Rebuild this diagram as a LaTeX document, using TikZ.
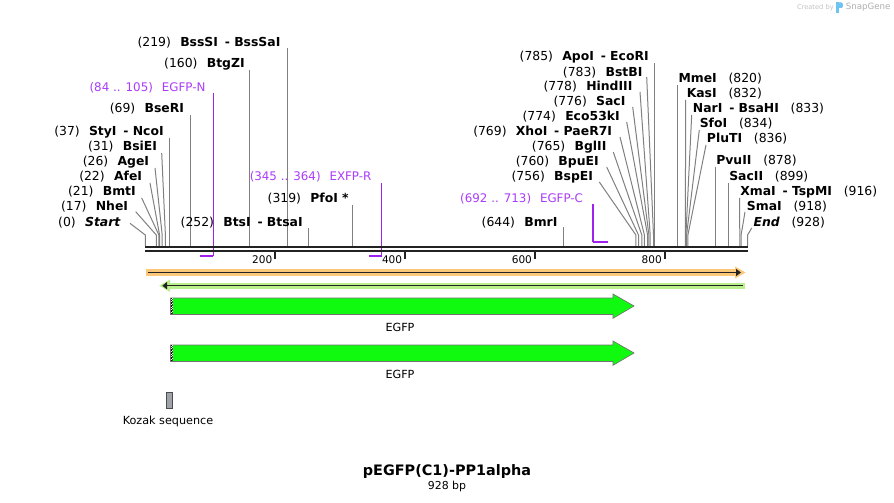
\documentclass[tikz,border=0pt]{standalone}
\usepackage{fontspec}
\setmainfont{DejaVu Sans}
\usetikzlibrary{arrows.meta}
\definecolor{prim}{RGB}{160,32,240}
\definecolor{primtxt}{RGB}{170,60,250}
\definecolor{siteln}{RGB}{128,128,128}
\definecolor{bbone}{RGB}{34,34,34}
\definecolor{orng}{RGB}{250,200,120}
\definecolor{lgrn}{RGB}{185,240,140}
\definecolor{egfpc}{RGB}{16,250,16}
\definecolor{kozakc}{RGB}{160,162,170}
\definecolor{sgray}{RGB}{195,195,195}
\definecolor{sblue}{RGB}{110,195,240}
\newcommand\nL[2]{(#1)\hspace{0.75em}\textbf{#2}}
\newcommand\nR[2]{\textbf{#1}\hspace{0.95em}(#2)}
\newcommand\dsh{\hspace{0.55em}- }
% vertical site line, label on the left
\newcommand\svL[6]{%
  \coordinate (b#1) at (#2,246); \coordinate (t#1) at (#2,#3);
  \node[lbl,anchor=east] (n#1) at (#4,#5) {#6};
  \draw[sitel] (b#1) -- (t#1);}
% angled site line, label on the left
\newcommand\saL[7]{%
  \coordinate (b#1) at (#2,246); \coordinate (k#1) at (#2,235); \coordinate (t#1) at (#3,#4);
  \node[lbl,anchor=east] (n#1) at (#5,#6) {#7};
  \draw[sitel] (b#1) -- (k#1) -- (t#1);}
% vertical site line, label on the right
\newcommand\svR[6]{%
  \coordinate (b#1) at (#2,246); \coordinate (t#1) at (#2,#3);
  \node[lbl,anchor=west] (n#1) at (#4,#5) {#6};
  \draw[sitel] (b#1) -- (t#1);}
% angled site line, label on the right
\newcommand\saR[7]{%
  \coordinate (b#1) at (#2,246); \coordinate (k#1) at (#2,235); \coordinate (t#1) at (#3,#4);
  \node[lbl,anchor=west] (n#1) at (#5,#6) {#7};
  \draw[sitel] (b#1) -- (k#1) -- (t#1);}
\begin{document}
\begin{tikzpicture}[x=0.75pt,y=-0.75pt,
  lbl/.style={font=\fontsize{9.3}{10}\selectfont, inner sep=0pt, text=black},
  plbl/.style={font=\fontsize{8.9}{10}\selectfont, inner sep=0pt, text=primtxt},
  sitel/.style={draw=siteln, line width=0.75pt},
  primer/.style={draw=prim, line width=1.5pt},
  bbline/.style={draw=bbone, line width=1.5pt},
  tick/.style={draw=bbone, line width=1.5pt},
  rlbl/.style={font=\fontsize{7.9}{9}\selectfont, inner sep=0pt, text=black},
  flbl/.style={font=\fontsize{8.4}{10}\selectfont, inner sep=0pt, text=black},
  egfparrow/.style={fill=egfpc, draw=black!55, line width=0.5pt}]
\useasboundingbox (0,0) rectangle (894,503);
\fill[white] (0,0) rectangle (894,503);

% ---- site lines and labels (left side)
\saL{st}{145.3}{130}{223.3}{121}{222.3}{(0)\hspace{0.75em}\textbf{\textit{Start}}}
\saL{nhe}{156.3}{135.7}{211.7}{128.3}{206.7}{\nL{17}{NheI}}
\saL{bmt}{158.9}{141.7}{198}{136}{191.7}{\nL{21}{BmtI}}
\saL{afe}{159.6}{150}{183}{142.3}{176.7}{\nL{22}{AfeI}}
\saL{age}{162.2}{155}{168}{149.3}{162}{\nL{26}{AgeI}}
\saL{bsie}{165.4}{161.7}{153}{157.3}{147}{\nL{31}{BsiEI}}
\svL{sty}{169.3}{138}{164}{131.7}{\nL{37}{StyI\dsh NcoI}}
\svL{bser}{190.1}{115}{184.3}{109}{\nL{69}{BseRI}}
\svL{btgz}{249.1}{70}{245}{64}{\nL{160}{BtgZI}}
\svL{bsss}{287.4}{48}{280.7}{42.3}{\nL{219}{BssSI\dsh BssSaI}}
\svL{bts}{308.8}{228}{303}{222.3}{\nL{252}{BtsI\dsh BtsaI}}
\svL{pfo}{352.3}{205}{349}{199}{\nL{319}{PfoI *}}
\svL{bmr}{563.2}{227}{557.7}{222.3}{\nL{644}{BmrI}}
\saL{bspe}{635.9}{599.3}{182}{593.3}{177}{\nL{756}{BspEI}}
\saL{bpue}{638.5}{606.7}{167}{599}{161.7}{\nL{760}{BpuEI}}
\saL{bgl}{641.8}{613.3}{152}{606.7}{146.7}{\nL{765}{BglII}}
\saL{xho}{644.4}{620}{137}{612.3}{131.7}{\nL{769}{XhoI\dsh PaeR7I}}
\saL{ecof}{647.6}{626.7}{122}{620}{116.7}{\nL{774}{Eco53kI}}
\saL{sac}{648.9}{632.7}{107}{625.7}{101.7}{\nL{776}{SacI}}
\saL{hind}{650.2}{640}{92}{632.7}{86.7}{\nL{778}{HindIII}}
\saL{bstb}{653.5}{646.7}{77}{642.7}{72.3}{\nL{783}{BstBI}}
\svL{apo}{654.8}{63}{649}{56.7}{\nL{785}{ApoI\dsh EcoRI}}
% ---- right side
\svR{mme}{677.5}{85}{678.3}{79}{\nR{MmeI}{820}}
\saR{kas}{685.3}{685.7}{100}{686.5}{93.3}{\nR{KasI}{832}}
\saR{nar}{685.9}{691.7}{115}{692.7}{109}{\nR{NarI\dsh BsaHI}{833}}
\saR{sfo}{686.6}{699.3}{130}{699.5}{124}{\nR{SfoI}{834}}
\saR{plu}{687.9}{706}{145}{706.7}{139}{\nR{PluTI}{836}}
\svR{pvu}{715.1}{167}{716}{161}{\nR{PvuII}{878}}
\svR{sact}{728.8}{183}{729}{176.7}{\nR{SacII}{899}}
\saR{xma}{739.8}{739.5}{198}{740}{192.3}{\nR{XmaI\dsh TspMI}{916}}
\saR{sma}{741.1}{745}{212}{746.7}{206.7}{\nR{SmaI}{918}}
\saR{end}{747.6}{751.7}{228}{753.3}{222.3}{\textbf{\textit{End}}\hspace{0.95em}(928)}

% ---- primers
\node[plbl,anchor=east] (pN) at (205.7,87.3) {(84 .. 105)\hspace{0.75em}EGFP-N};
\coordinate (pNt) at (213.4,93); \coordinate (pNk) at (213.4,256); \coordinate (pNe) at (199.8,256);
\draw[primer,line width=1.1pt] (pNt) -- (pNk);
\draw[primer] (pNk) -- (pNe);
\node[plbl,anchor=east] (pR) at (371.7,176.7) {(345 .. 364)\hspace{0.75em}EXFP-R};
\coordinate (pRt) at (381.5,183); \coordinate (pRk) at (381.5,256); \coordinate (pRe) at (369.2,256);
\draw[primer,line width=1.1pt] (pRt) -- (pRk);
\draw[primer] (pRk) -- (pRe);
\node[plbl,anchor=east] (pC) at (583.3,199) {(692 .. 713)\hspace{0.75em}EGFP-C};
\coordinate (pCt) at (593,204); \coordinate (pCk) at (593,242); \coordinate (pCe) at (607.5,242);
\draw[primer,line width=1.1pt] (pCt) -- (pCk);
\draw[primer] (pCk) -- (pCe);

% ---- backbone
\coordinate (bbL1) at (145,247); \coordinate (bbR1) at (748,247);
\coordinate (bbL2) at (145,251); \coordinate (bbR2) at (748,251);
\draw[bbline] (bbL1) -- (bbR1);
\draw[bbline] (bbL2) -- (bbR2);
% ---- ruler ticks
\foreach \p/\xx in {200/275.1,400/404.9,600/534.7,800/664.5}{
  \draw[tick] (\xx,252) -- (\xx,259.3);
  \node[rlbl,anchor=east] (r\p) at (\xx-2.5,259.5) {\p};
}

% ---- orange (forward) bar
\coordinate (oL) at (146,272.5); \coordinate (oR) at (739,272.5);
\draw[orng, line width=4.8pt] (oL) -- (oR);
\fill[orng] (735,266.5) -- (745.5,272.5) -- (735,278.5) -- cycle;
\draw[bbone, line width=1.1pt] (147.7,272.5) -- (737,272.5);
\fill[bbone] (736,268.8) -- (741,272.5) -- (736,276.2) -- cycle;

% ---- green (reverse) bar
\coordinate (gL) at (165,285.7); \coordinate (gR) at (745,285.7);
\draw[lgrn, line width=4.5pt] (gL) -- (gR);
\fill[lgrn] (170,279.5) -- (159.3,285.7) -- (170,291.9) -- cycle;
\draw[bbone, line width=1.1pt] (166,285.7) -- (742.7,285.7);
\fill[bbone] (167,282) -- (162.3,285.7) -- (167,289.4) -- cycle;

% ---- EGFP features
\draw[egfparrow] (170.5,298) -- (613,298) -- (613,294) -- (634,306) -- (613,318.3) -- (613,314.5) -- (170.5,314.5) -- cycle;
\fill[white] (170.8,298.3) rectangle (173.3,314.2);
\draw[black, line width=0.6pt, dash pattern=on 0.6pt off 0.6pt] (171.5,298.3) -- (171.5,314.2);
\draw[black!70, line width=0.6pt, dash pattern=on 0.6pt off 0.6pt] (172.8,298.9) -- (172.8,314.2);
\node[flbl] (f1) at (400,327.3) {EGFP};

\draw[egfparrow] (170.5,345) -- (613,345) -- (613,341) -- (634,353) -- (613,365.3) -- (613,361.5) -- (170.5,361.5) -- cycle;
\fill[white] (170.8,345.3) rectangle (173.3,361.2);
\draw[black, line width=0.6pt, dash pattern=on 0.6pt off 0.6pt] (171.5,345.3) -- (171.5,361.2);
\draw[black!70, line width=0.6pt, dash pattern=on 0.6pt off 0.6pt] (172.8,345.9) -- (172.8,361.2);
\node[flbl] (f2) at (400,374.5) {EGFP};

% ---- Kozak
\draw[fill=kozakc, draw=black!70, line width=0.6pt] (166.8,392.7) rectangle (172.3,408.3);
\node[flbl] (kz) at (168,421.5) {Kozak sequence};

% ---- title
\node[inner sep=0pt, font=\fontsize{10.8}{12}\selectfont\bfseries] (title) at (447,471.5) {pEGFP(C1)-PP1alpha};
\node[inner sep=0pt, font=\fontsize{8.2}{10}\selectfont] (bp) at (447,486.5) {928 bp};

% ---- credit
\node[inner sep=0pt, anchor=east, text=sgray, font=\fontsize{5}{6}\selectfont] (cr) at (834,7.5) {Created by};
\fill[sblue] (836.3,2.5) rectangle (838.6,13);
\fill[sblue] (838.6,2.5) -- (841.5,2.5) .. controls (843.5,2.5) and (843.5,8) .. (841.5,8) -- (838.6,8) -- cycle;
\node[inner sep=0pt, anchor=west, text=sgray!90!black, font=\fontsize{6.5}{7}\selectfont] (sg) at (845.5,7.5) {SnapGene};
\end{tikzpicture}
\end{document}
